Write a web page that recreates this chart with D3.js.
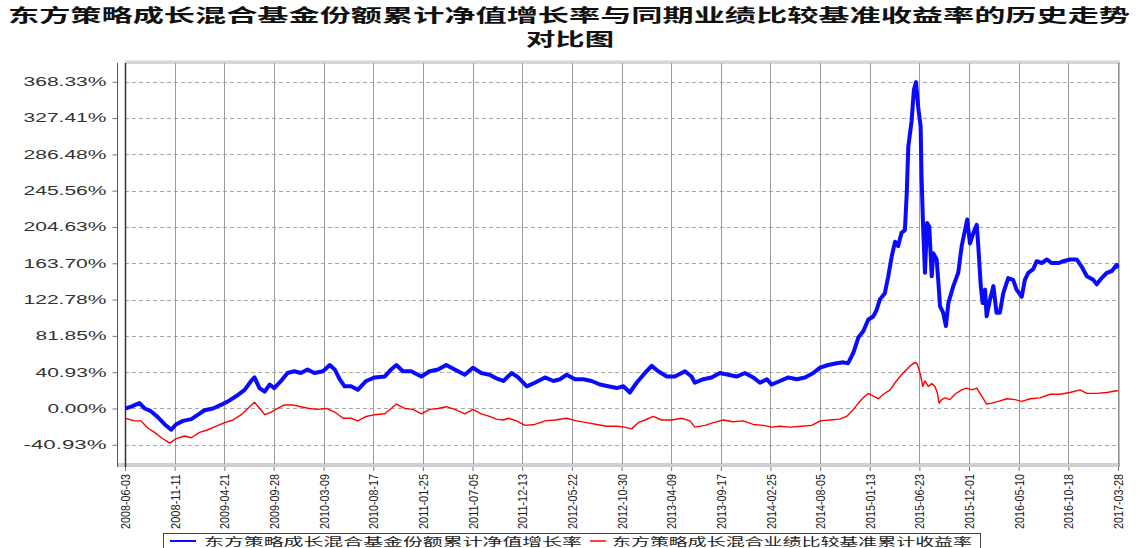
<!DOCTYPE html>
<html><head><meta charset="utf-8">
<script src="https://cdn.jsdelivr.net/npm/d3@7"></script>
<style>body{margin:0;background:#fff}svg{display:block}</style>
</head><body>
<svg id="chart" width="1138" height="548"></svg>
<script>
const titleLines = ["东方策略成长混合基金份额累计净值增长率与同期业绩比较基准收益率的历史走势", "对比图"];
const legendLabels = ["东方策略成长混合基金份额累计净值增长率", "东方策略成长混合业绩比较基准累计收益率"];
const xTickDates = ["2008-06-03","2008-11-11","2009-04-21","2009-09-28","2010-03-09","2010-08-17","2011-01-25","2011-07-05","2011-12-13","2012-05-22","2012-10-30","2013-04-09","2013-09-17","2014-02-25","2014-08-05","2015-01-13","2015-06-23","2015-12-01","2016-05-10","2016-10-18","2017-03-28"];
const yTickValues = [-40.93, 0, 40.93, 81.85, 122.78, 163.70, 204.63, 245.56, 286.48, 327.41, 368.33];
const yTickLabels = ["-40.93%","0.00%","40.93%","81.85%","122.78%","163.70%","204.63%","245.56%","286.48%","327.41%","368.33%"];

const fundSeries = [
["2008-06-03",0],["2008-06-23",2],["2008-07-20",6],["2008-08-06",0],["2008-08-26",-3],["2008-09-18",-10],["2008-10-10",-18],["2008-10-31",-24],["2008-11-15",-18],["2008-12-08",-14],
["2009-01-04",-12],["2009-01-26",-7],["2009-02-16",-2],["2009-03-15",0],["2009-04-10",4],["2009-05-03",8],["2009-05-30",14],["2009-06-26",21],["2009-07-17",31],["2009-07-28",35],["2009-08-13",23],["2009-08-30",19],["2009-09-15",27],["2009-09-30",23],["2009-10-22",31],["2009-11-12",40],["2009-12-04",42],["2009-12-25",40],
["2010-01-16",44],["2010-02-07",40],["2010-03-07",42],["2010-03-29",49],["2010-04-14",44],["2010-04-30",33],["2010-05-16",25],["2010-06-06",25],["2010-06-28",21],["2010-07-25",31],["2010-08-22",35],["2010-09-23",36],["2010-10-14",44],["2010-10-31",49],["2010-11-21",42],["2010-12-18",42],
["2011-01-20",36],["2011-02-16",42],["2011-03-15",44],["2011-04-11",49],["2011-05-08",44],["2011-06-10",38],["2011-07-06",46],["2011-08-02",40],["2011-08-29",38],["2011-09-20",34],["2011-10-13",31],["2011-11-09",40],["2011-11-30",35],["2011-12-28",25],
["2012-01-23",29],["2012-02-25",35],["2012-03-23",31],["2012-04-14",33],["2012-05-05",38],["2012-06-01",33],["2012-06-28",33],["2012-07-25",31],["2012-08-21",27],["2012-09-17",25],["2012-10-15",23],["2012-11-05",25],["2012-11-26",18],["2012-12-18",29],
["2013-01-14",40],["2013-02-05",48],["2013-02-26",42],["2013-03-26",36],["2013-04-21",36],["2013-05-24",42],["2013-06-14",36],["2013-06-25",29],["2013-07-22",33],["2013-08-18",35],["2013-09-14",40],["2013-10-11",38],["2013-11-07",36],["2013-12-04",40],["2013-12-31",35],
["2014-01-22",29],["2014-02-13",33],["2014-03-01",27],["2014-03-28",31],["2014-04-24",35],["2014-05-21",33],["2014-06-17",35],["2014-07-14",40],["2014-08-05",46],["2014-08-31",49],["2014-09-28",51],["2014-10-19",52],["2014-11-04",51],["2014-11-21",63],["2014-12-07",80],["2014-12-23",87],
["2015-01-08",100],["2015-01-25",104],["2015-02-04",111],["2015-02-15",123],["2015-03-03",130],["2015-03-14",149],["2015-03-25",171],["2015-04-05",188],["2015-04-15",183],["2015-04-26",198],["2015-05-07",201],["2015-05-13",243],["2015-05-18",295],["2015-05-29",325],["2015-06-05",359],["2015-06-12",368],["2015-06-19",340],["2015-06-27",318],["2015-06-30",261],["2015-07-05",205],["2015-07-11",153],["2015-07-18",209],["2015-07-25",205],["2015-08-02",149],["2015-08-07",175],["2015-08-18",168],["2015-08-23",145],["2015-08-29",115],["2015-09-08",108],["2015-09-17",93],["2015-09-25",119],["2015-10-11",138],["2015-10-27",153],["2015-11-07",183],["2015-11-18",201],["2015-11-25",213],["2015-12-04",186],["2015-12-15",198],["2015-12-26",207],["2015-12-31",183],
["2016-01-08",138],["2016-01-14",119],["2016-01-22",134],["2016-01-27",104],["2016-02-07",123],["2016-02-18",138],["2016-02-28",108],["2016-03-10",108],["2016-03-21",130],["2016-04-06",147],["2016-04-22",145],["2016-05-03",134],["2016-05-20",126],["2016-05-30",145],["2016-06-10",153],["2016-06-26",157],["2016-07-07",166],["2016-07-24",164],["2016-08-09",168],["2016-08-25",164],["2016-09-16",164],["2016-10-02",166],["2016-10-23",168],["2016-11-14",168],["2016-11-30",160],["2016-12-17",149],
["2017-01-07",145],["2017-01-18",140],["2017-02-03",147],["2017-02-20",153],["2017-03-08",155],["2017-03-24",162],["2017-03-28",158]
];

const benchSeries = [
["2008-06-03",-11],["2008-07-04",-14],["2008-07-25",-14],["2008-08-16",-22],["2008-09-07",-27],["2008-09-29",-33],["2008-10-26",-39],["2008-11-16",-34],["2008-12-13",-31],
["2009-01-04",-33],["2009-01-31",-27],["2009-02-27",-24],["2009-03-26",-20],["2009-04-22",-16],["2009-05-19",-13],["2009-06-15",-7],["2009-07-12",2],["2009-07-28",7],["2009-08-14",0],["2009-08-30",-7],["2009-09-20",-4],["2009-10-11",0],["2009-11-02",4],["2009-11-29",4],["2009-12-25",2],
["2010-01-21",0],["2010-02-17",-1],["2010-03-18",0],["2010-04-14",-4],["2010-05-11",-11],["2010-06-06",-11],["2010-06-28",-14],["2010-07-25",-9],["2010-08-22",-7],["2010-09-23",-6],["2010-10-14",0],["2010-10-31",5],["2010-11-27",0],["2010-12-24",-1],
["2011-01-20",-6],["2011-02-16",-1],["2011-03-15",0],["2011-04-11",2],["2011-05-08",-1],["2011-06-10",-6],["2011-07-06",-1],["2011-08-02",-6],["2011-08-29",-9],["2011-09-20",-12],["2011-10-13",-13],["2011-10-29",-11],["2011-11-25",-14],["2011-12-22",-19],
["2012-01-23",-18],["2012-02-25",-14],["2012-03-28",-13],["2012-05-05",-11],["2012-06-07",-14],["2012-07-09",-16],["2012-08-11",-18],["2012-09-12",-20],["2012-10-15",-20],["2012-11-10",-21],["2012-12-02",-23],["2012-12-23",-16],
["2013-01-14",-13],["2013-02-10",-9],["2013-03-09",-13],["2013-04-11",-13],["2013-05-13",-11],["2013-06-09",-14],["2013-06-25",-21],["2013-07-28",-19],["2013-08-24",-16],["2013-09-25",-13],["2013-10-27",-15],["2013-11-29",-14],["2013-12-31",-18],
["2014-02-02",-19],["2014-03-01",-21],["2014-03-28",-20],["2014-04-29",-21],["2014-06-06",-20],["2014-07-09",-19],["2014-08-05",-14],["2014-09-06",-13],["2014-10-08",-12],["2014-10-30",-9],["2014-11-21",-1],["2014-12-07",6],["2014-12-23",12],
["2015-01-08",17],["2015-01-25",14],["2015-02-10",11],["2015-02-26",16],["2015-03-20",21],["2015-04-05",29],["2015-04-21",36],["2015-05-07",42],["2015-05-24",48],["2015-06-09",52],["2015-06-16",50],["2015-06-25",40],["2015-07-04",25],["2015-07-11",31],["2015-07-22",25],["2015-08-02",28],["2015-08-12",25],["2015-08-20",18],["2015-08-26",6],["2015-09-03",10],["2015-09-14",12],["2015-09-30",10],["2015-10-16",16],["2015-11-07",21],["2015-11-23",23],["2015-12-10",21],["2015-12-26",23],
["2016-01-11",14],["2016-01-27",5],["2016-02-12",6],["2016-03-05",8],["2016-04-01",11],["2016-04-28",10],["2016-05-20",8],["2016-06-16",11],["2016-07-18",12],["2016-08-20",16],["2016-09-21",16],["2016-10-23",18],["2016-11-25",21],["2016-12-17",17],
["2017-01-18",17],["2017-02-20",18],["2017-03-24",20],["2017-03-28",20]
];

const svg = d3.select("#chart");
const parse = d3.utcParse("%Y-%m-%d");
const plotL = 125, plotR = 1119, plotT = 63, plotB = 464;
const x = d3.scaleUtc().domain([parse(xTickDates[0]), parse(xTickDates[xTickDates.length-1])]).range([125, 1118]);
const y = d3.scaleLinear().domain([-62.6, 389.5]).range([plotB, plotT]);

// title
svg.append("text").attr("x", 8).attr("y", 22)
  .attr("font-family", "'Noto Sans CJK SC'").attr("font-weight", 700).attr("font-size", 18)
  .attr("fill", "#111").attr("textLength", 1122).attr("lengthAdjust", "spacingAndGlyphs")
  .text(titleLines[0]);
svg.append("text").attr("x", 570).attr("y", 46).attr("text-anchor", "middle")
  .attr("font-family", "'Noto Sans CJK SC'").attr("font-weight", 700).attr("font-size", 18)
  .attr("fill", "#111").attr("textLength", 88).attr("lengthAdjust", "spacingAndGlyphs")
  .text(titleLines[1]);

// bands
svg.append("rect").attr("x", plotL).attr("y", 60.5).attr("width", plotR - plotL + 1).attr("height", 3.5).attr("fill", "#d6d6d6");
svg.append("rect").attr("x", 117).attr("y", 463).attr("width", plotR - 117 + 1).attr("height", 4).attr("fill", "#cfcfcf");

// horizontal grid
svg.append("g").selectAll("line").data(yTickValues).join("line")
  .attr("x1", plotL).attr("x2", plotR).attr("y1", d => Math.round(y(d)) + 0.5).attr("y2", d => Math.round(y(d)) + 0.5)
  .attr("stroke", "#a9a9a9").attr("stroke-dasharray", "4,3");

// vertical grid
svg.append("g").selectAll("line").data(xTickDates).join("line")
  .attr("x1", d => Math.round(x(parse(d))) + 0.5).attr("x2", d => Math.round(x(parse(d))) + 0.5)
  .attr("y1", plotT).attr("y2", plotB)
  .attr("stroke", "#9c9c9c");

// y axis
const yAxis = d3.axisLeft(y).tickValues(yTickValues).tickSize(5).tickFormat((d, i) => yTickLabels[i]);
const gy = svg.append("g").attr("transform", "translate(117.5,0)").call(yAxis);
gy.select(".domain").attr("stroke", "#555").attr("d", `M0,${plotT}V467`);
gy.selectAll(".tick line").attr("stroke", "#777");
gy.selectAll(".tick text").attr("x", -11).attr("font-family", "'Liberation Sans', Arial, sans-serif")
  .attr("font-size", 12).attr("fill", "#333")
  .attr("textLength", (d, i) => yTickLabels[i].length * 12 - 1).attr("lengthAdjust", "spacingAndGlyphs");

// plot borders
svg.append("line").attr("x1", 125.5).attr("x2", 125.5).attr("y1", plotT).attr("y2", 467).attr("stroke", "#333").attr("stroke-width", 1.5);
svg.append("line").attr("x1", plotR).attr("x2", plotR).attr("y1", plotT).attr("y2", 467).attr("stroke", "#808080");

// x axis
const xAxis = d3.axisBottom(x).tickValues(xTickDates.map(parse)).tickSize(4).tickFormat((d, i) => xTickDates[i]);
const gx = svg.append("g").attr("transform", "translate(0,467)").call(xAxis);
gx.select(".domain").remove();
gx.selectAll(".tick line").attr("stroke", "#777");
gx.selectAll(".tick text")
  .attr("font-family", "'Liberation Sans', Arial, sans-serif").attr("font-size", 10).attr("fill", "#1a1a1a")
  .attr("text-anchor", "end").attr("x", 0).attr("y", 0).attr("dy", "0.35em")
  .attr("transform", "translate(0,7) scale(1.3,1) rotate(-90)")
  .attr("textLength", 55).attr("lengthAdjust", "spacingAndGlyphs");

// lines
svg.append("clipPath").attr("id", "clip").append("rect").attr("x", plotL).attr("y", plotT).attr("width", plotR - plotL).attr("height", plotB - plotT);
const line = d3.line().x(d => x(parse(d[0]))).y(d => y(d[1]));
svg.append("path").datum(fundSeries).attr("d", line).attr("fill", "none")
  .attr("stroke", "#0a0aff").attr("stroke-width", 4).attr("stroke-linejoin", "round").attr("clip-path", "url(#clip)");
svg.append("path").datum(benchSeries).attr("d", line).attr("fill", "none")
  .attr("stroke", "#ff0000").attr("stroke-width", 1.4).attr("stroke-linejoin", "round").attr("clip-path", "url(#clip)");

// legend
const lg = svg.append("g");
lg.append("rect").attr("x", 163.5).attr("y", 533.5).attr("width", 817).attr("height", 30).attr("fill", "none").attr("stroke", "#444");
lg.append("line").attr("x1", 170).attr("x2", 196).attr("y1", 541).attr("y2", 541).attr("stroke", "#0a0aff").attr("stroke-width", 2);
lg.append("text").attr("x", 204).attr("y", 545.5).attr("font-family", "'Noto Sans CJK SC'").attr("font-size", 11).attr("fill", "#222")
  .attr("textLength", 378).attr("lengthAdjust", "spacingAndGlyphs").text(legendLabels[0]);
lg.append("line").attr("x1", 590).attr("x2", 606).attr("y1", 541).attr("y2", 541).attr("stroke", "#ff0000").attr("stroke-width", 1.5);
lg.append("text").attr("x", 612).attr("y", 545.5).attr("font-family", "'Noto Sans CJK SC'").attr("font-size", 11).attr("fill", "#222")
  .attr("textLength", 360).attr("lengthAdjust", "spacingAndGlyphs").text(legendLabels[1]);
</script>
</body></html>
